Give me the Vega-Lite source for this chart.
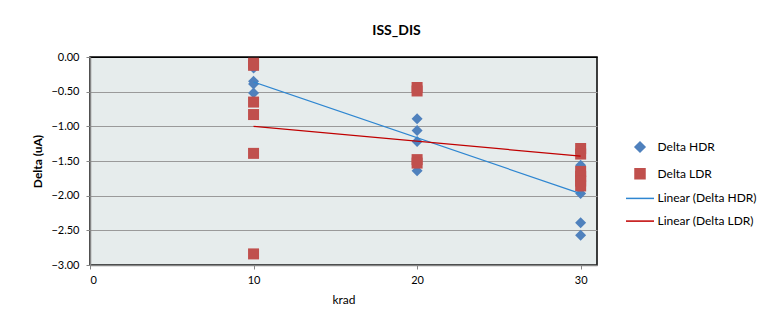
{
  "$schema": "https://vega.github.io/schema/vega-lite/v6.json",
  "width": 507,
  "height": 208,
  "autosize": {"type": "none"},
  "padding": {"left": 90, "top": 57, "right": 168, "bottom": 57},
  "background": "white",
  "title": {"text": "ISS_DIS", "font": "Lato", "fontSize": 14, "fontWeight": "bold", "color": "#000", "anchor": "middle", "frame": "group", "dx": 53, "offset": 13},
  "config": {"view": {"fill": "#E6ECEC", "stroke": "#000", "strokeWidth": 1.5}, "font": "Lato"},
  "encoding": {
    "x": {"field": "krad", "type": "quantitative", "scale": {"domain": [0, 31], "nice": false},
      "axis": {"title": "krad", "values": [0, 10, 20, 30], "grid": false, "domainColor": "#868686", "domainWidth": 1.5, "tickColor": "#868686", "tickSize": 4, "labelFont": "Lato", "labelFontSize": 11, "labelColor": "#000", "labelPadding": 5, "titleFont": "Lato", "titleFontSize": 12, "titleFontWeight": "normal", "titleColor": "#000", "titlePadding": 9}},
    "y": {"field": "delta", "type": "quantitative", "scale": {"domain": [-3, 0], "nice": false},
      "axis": {"title": "Delta (uA)", "values": [-3, -2.5, -2, -1.5, -1, -0.5, 0], "format": ".2f", "grid": true, "gridColor": {"condition": {"test": "datum.value === 0", "value": "#000"}, "value": "#9A9A9A"}, "gridWidth": 1, "domainColor": "#868686", "domainWidth": 1.5, "tickColor": "#868686", "tickSize": 4, "labelFont": "Lato", "labelFontSize": 11, "labelColor": "#000", "labelPadding": 7, "labelOverlap": false, "titleFont": "Lato", "titleFontSize": 12, "titleFontWeight": "bold", "titleColor": "#000", "titlePadding": 6}}
  },
  "layer": [
    {
      "data": {"values": [
        {"krad": 10, "delta": -0.16, "series": "Delta HDR"},
        {"krad": 10, "delta": -0.35, "series": "Delta HDR"},
        {"krad": 10, "delta": -0.39, "series": "Delta HDR"},
        {"krad": 10, "delta": -0.52, "series": "Delta HDR"},
        {"krad": 20, "delta": -0.89, "series": "Delta HDR"},
        {"krad": 20, "delta": -1.06, "series": "Delta HDR"},
        {"krad": 20, "delta": -1.22, "series": "Delta HDR"},
        {"krad": 20, "delta": -1.64, "series": "Delta HDR"},
        {"krad": 30, "delta": -1.56, "series": "Delta HDR"},
        {"krad": 30, "delta": -1.97, "series": "Delta HDR"},
        {"krad": 30, "delta": -2.39, "series": "Delta HDR"},
        {"krad": 30, "delta": -2.57, "series": "Delta HDR"},
        {"krad": 10, "delta": -0.09, "series": "Delta LDR"},
        {"krad": 10, "delta": -0.12, "series": "Delta LDR"},
        {"krad": 10, "delta": -0.65, "series": "Delta LDR"},
        {"krad": 10, "delta": -0.83, "series": "Delta LDR"},
        {"krad": 10, "delta": -1.39, "series": "Delta LDR"},
        {"krad": 10, "delta": -2.84, "series": "Delta LDR"},
        {"krad": 20, "delta": -0.44, "series": "Delta LDR"},
        {"krad": 20, "delta": -0.49, "series": "Delta LDR"},
        {"krad": 20, "delta": -1.48, "series": "Delta LDR"},
        {"krad": 20, "delta": -1.53, "series": "Delta LDR"},
        {"krad": 30, "delta": -1.32, "series": "Delta LDR"},
        {"krad": 30, "delta": -1.40, "series": "Delta LDR"},
        {"krad": 30, "delta": -1.65, "series": "Delta LDR"},
        {"krad": 30, "delta": -1.72, "series": "Delta LDR"},
        {"krad": 30, "delta": -1.79, "series": "Delta LDR"},
        {"krad": 30, "delta": -1.86, "series": "Delta LDR"}
      ]},
      "mark": {"type": "point", "filled": true, "size": 121, "opacity": 1, "strokeWidth": 0},
      "encoding": {
        "color": {"field": "series", "type": "nominal",
          "scale": {"domain": ["Delta HDR", "Delta LDR", "Linear (Delta HDR)", "Linear (Delta LDR)"], "range": ["#4F81BD", "#C0504D", "#2E86D1", "#C00000"]},
          "legend": {"title": null, "orient": "none", "legendX": 544, "legendY": 84, "symbolSize": 100, "symbolStrokeWidth": 1.5, "labelFont": "Lato", "labelFontSize": 12, "labelColor": "#000", "labelOffset": 11.5, "rowPadding": 10.7, "padding": 0,
            "encode": {"symbols": {"update": {"fill": {"scale": "color", "field": "value"}, "stroke": {"scale": "color", "field": "value"}, "strokeWidth": {"signal": "test(/^Linear/, datum.value) ? 1.5 : 0"}, "opacity": {"value": 1}}}}}},
        "shape": {"field": "series", "type": "nominal",
          "scale": {"domain": ["Delta HDR", "Delta LDR", "Linear (Delta HDR)", "Linear (Delta LDR)"], "range": ["diamond", "square", "M-2.8,0H2.8", "M-2.8,0H2.8"]},
          "legend": {"title": null, "orient": "none", "legendX": 544, "legendY": 84, "symbolSize": 100, "symbolStrokeWidth": 1.5, "labelFont": "Lato", "labelFontSize": 12, "labelColor": "#000", "labelOffset": 11.5, "rowPadding": 10.7, "padding": 0,
            "encode": {"symbols": {"update": {"fill": {"scale": "color", "field": "value"}, "stroke": {"scale": "color", "field": "value"}, "strokeWidth": {"signal": "test(/^Linear/, datum.value) ? 1.5 : 0"}, "opacity": {"value": 1}}}}}}
      }
    },
    {
      "data": {"values": [
        {"krad": 10, "delta": -0.36, "series": "Linear (Delta HDR)"},
        {"krad": 30, "delta": -1.97, "series": "Linear (Delta HDR)"},
        {"krad": 10, "delta": -1.00, "series": "Linear (Delta LDR)"},
        {"krad": 30, "delta": -1.43, "series": "Linear (Delta LDR)"}
      ]},
      "mark": {"type": "line", "strokeWidth": 1.2},
      "encoding": {
        "color": {"field": "series", "type": "nominal", "legend": null}
      }
    }
  ]
}
